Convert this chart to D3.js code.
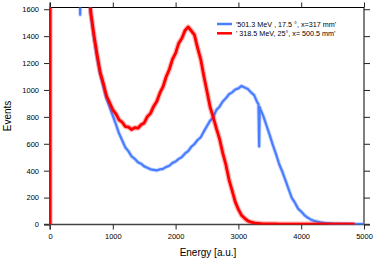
<!DOCTYPE html>
<html><head><meta charset="utf-8">
<script src="https://cdn.jsdelivr.net/npm/d3@7"></script>
<style>
html,body{margin:0;padding:0;background:#fff;}
svg{display:block;font-family:"Liberation Sans",Arial,sans-serif;}
</style></head>
<body><svg id="c" width="383" height="259"></svg>
<script>
const energy = [0,0,100,200,300,400,470,480,490,550,
600,650,700,750,800,850,900,950,1000,1050,1100,1150,1200,1250,1300,1350,1400,1450,1500,1550,1600,1650,1700,1750,1800,1850,1900,1950,2000,2050,2100,2150,2200,2250,2300,2350,2400,2450,2500,2550,2600,2650,2700,2750,2800,2850,2900,2950,3000,3050,3100,3150,3200,3250,3300,
3320,3330,3340,
3350,3400,3450,3500,3550,3600,3650,3700,3750,3800,3850,3900,3950,4000,4050,4100,4150,4200,4250,4300,4350,4400,4450,4500,4550,4600,4650,4700,4750,4800,4850,4900,4950,5000];

const blueSeries = [0,9000,8000,6000,4500,3300,2700,1560,2600,2200,
1850,1560,1395,1240,1118,1025,935,872,808,744,676,624,572,544,506,488,462,452,432,422,410,406,402,410,413,428,437,458,468,488,502,528,545,578,598,628,648,692,732,772,798,852,876,914,938,968,982,1004,1012,1030,1018,1008,982,962,908,
895,580,872,
858,802,732,662,588,522,448,392,328,262,198,162,118,96,70,52,38,28,22,17,13,10,8,6,5,5,4,4,4,3,3,3,3,3];

const redSeries = [0,9000,8000,6000,4500,3300,2700,2650,2600,2200,
1850,1575,1405,1262,1128,1048,955,905,852,822,778,760,728,724,706,720,716,741,755,802,826,878,915,978,1024,1098,1152,1228,1274,1348,1385,1442,1468,1440,1410,1312,1228,1102,988,872,796,712,636,532,446,334,252,168,112,68,46,27,18,12,9,
8,8,7,
7,5,5,4,4,4,3,3,3,3,3,3,3,3,3,3,3,3,3,3,3,2,2,2,2,2,2,2,2,2,2];

const xTicks = [0,1000,2000,3000,4000,5000];
const yTicks = [0,200,400,600,800,1000,1200,1400,1600];
const seriesNames = ["'501.3 MeV , 17.5 °, x=317 mm'", "' 318.5 MeV, 25°, x= 500.5 mm'"];
const seriesColors = ["#4a7dff", "#ff0000"];

const svg = d3.select("#c");
const L = 50, R = 364, T = 7.5, B = 224.5;
const x = d3.scaleLinear().domain([0,5000]).range([L,R]);
const y = d3.scaleLinear().domain([0,1613]).range([B,T]);
const fmt = d3.format("d");

svg.append("defs").append("clipPath").attr("id","clip")
  .append("rect").attr("x",L-1).attr("y",T).attr("width",R-L+1).attr("height",B-T);

// frame top/right
svg.append("line").attr("x1",L).attr("x2",R).attr("y1",T).attr("y2",T).attr("stroke","#000").attr("stroke-width",1);
svg.append("line").attr("x1",R).attr("x2",R).attr("y1",T).attr("y2",B).attr("stroke","#000").attr("stroke-width",1);

// axes
const ax = d3.axisBottom(x).tickValues(xTicks).tickFormat(fmt).tickSize(5).tickPadding(4).tickSizeOuter(0);
const gx = svg.append("g").attr("transform",`translate(0,${B})`).call(ax);
const ay = d3.axisLeft(y).tickValues(yTicks).tickFormat(fmt).tickSize(6).tickPadding(5).tickSizeOuter(0);
const gy = svg.append("g").attr("transform",`translate(${L},0)`).call(ay);
const axT = d3.axisTop(x).tickValues(xTicks).tickSize(5).tickFormat("").tickSizeOuter(0);
const gt = svg.append("g").attr("transform",`translate(0,${T})`).call(axT);
const axR = d3.axisRight(y).tickValues(yTicks).tickSize(6).tickFormat("").tickSizeOuter(0);
const gr = svg.append("g").attr("transform",`translate(${R},0)`).call(axR);
[gx,gy,gt,gr].forEach(a=>{
  a.selectAll("text").attr("font-size","7.5px").attr("fill","#000").attr("font-family","Liberation Sans, Arial, sans-serif");
  a.selectAll(".tick line").attr("stroke","#222");
  a.select(".domain").attr("stroke","#222");
});
gt.select(".domain").remove(); gr.select(".domain").remove();
gx.select(".domain").attr("d",`M${L-6},0H${R+6}`).attr("stroke","#444").attr("stroke-width",1.4);
gy.select(".domain").attr("d",`M0,${T-5}V${B+5}`).attr("stroke","#444").attr("stroke-width",1.4);

// curves (drawn over the axes, like the reference)
const line = d3.line().x(d=>x(d[0])).y(d=>y(d[1]));
const g = svg.append("g").attr("clip-path","url(#clip)");
[blueSeries, redSeries].forEach((s,i)=>{
  const pts = energy.map((e,j)=>[e,s[j]]);
  g.append("path").datum(pts)
   .attr("d", line).attr("fill","none")
   .attr("stroke", seriesColors[i]).attr("stroke-opacity",0.3).attr("stroke-width", i===0?4:5.2)
   .attr("stroke-linejoin","round");
  g.append("path").datum(pts)
   .attr("d", line).attr("fill","none")
   .attr("stroke", seriesColors[i]).attr("stroke-width", i===0?2.2:2.8)
   .attr("stroke-linejoin","round");
});

// axis titles
svg.append("text").attr("x",208).attr("y",256).attr("text-anchor","middle")
  .attr("font-size","10px").text("Energy [a.u.]");
svg.append("text").attr("transform","translate(11,116) rotate(-90)").attr("text-anchor","middle")
  .attr("font-size","10px").text("Events");

// legend
seriesNames.forEach((n,i)=>{
  const yy = 24 + i*9.3;
  svg.append("line").attr("x1",217).attr("x2",232).attr("y1",yy).attr("y2",yy)
    .attr("stroke",seriesColors[i]).attr("stroke-width",2.5);
  svg.append("text").attr("x",236).attr("y",yy+2.6).attr("font-size","7.2px").text(n);
});
</script></body></html>
